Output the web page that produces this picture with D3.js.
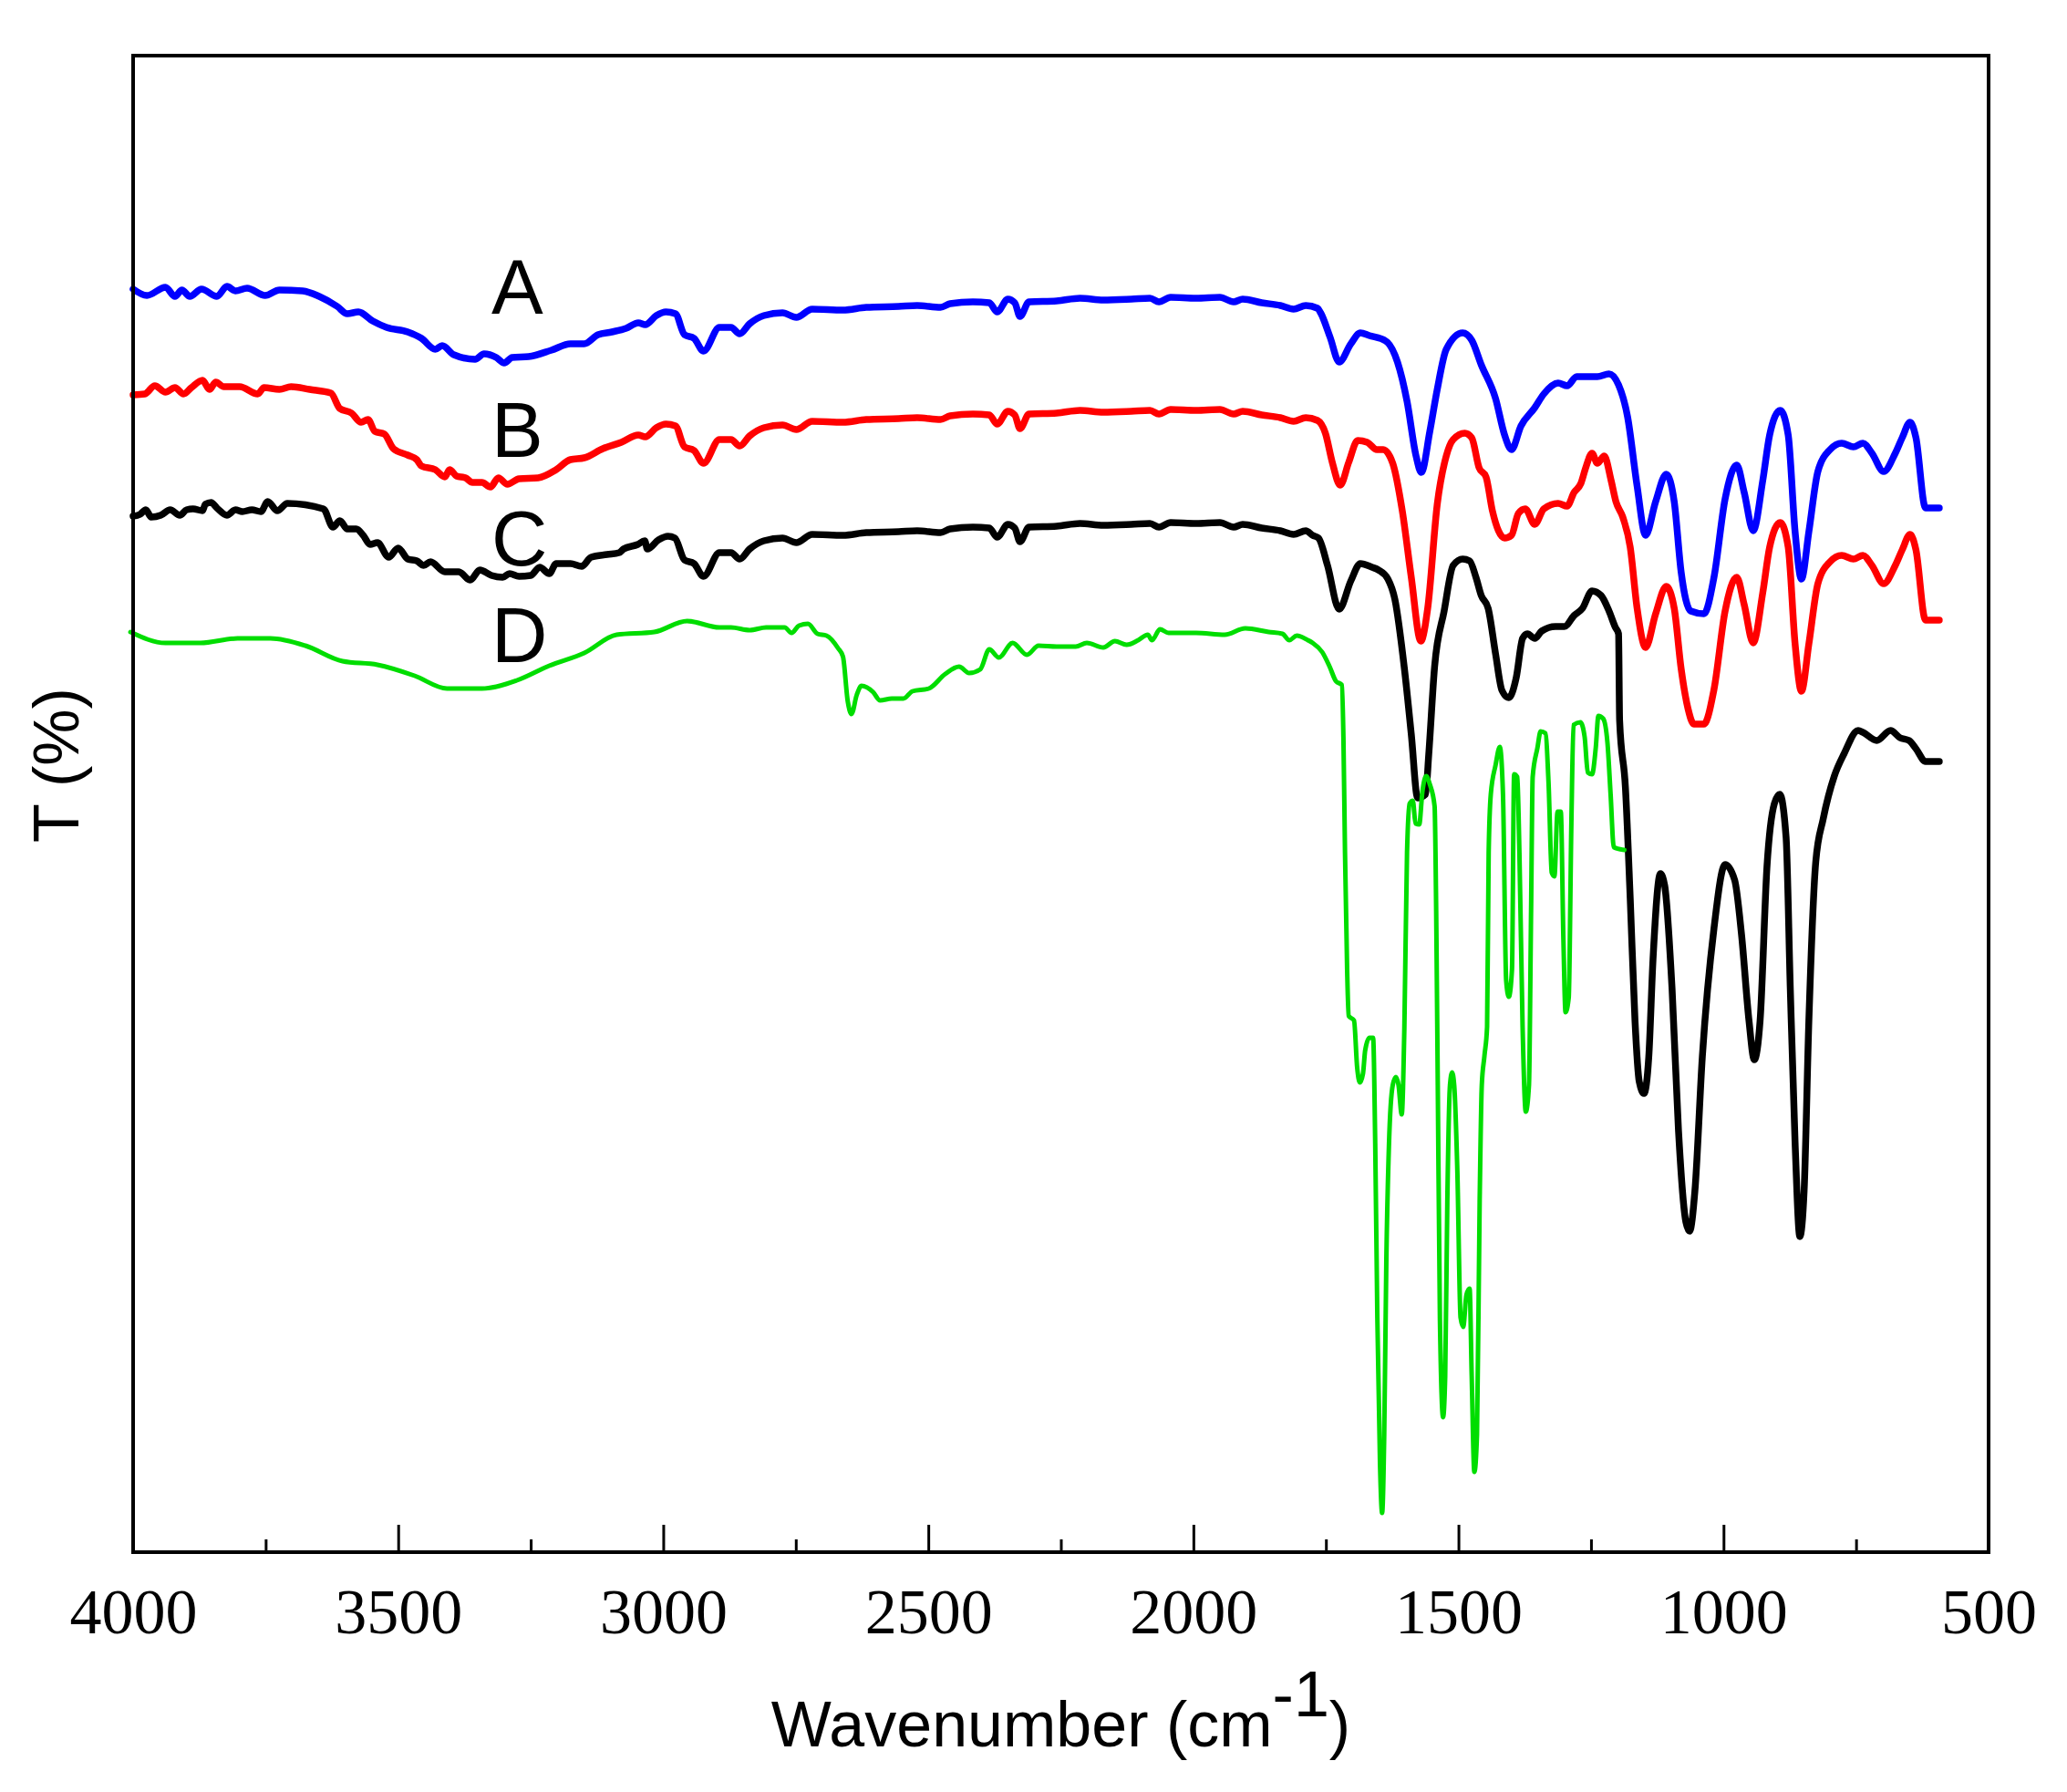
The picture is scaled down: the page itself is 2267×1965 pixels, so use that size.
<!DOCTYPE html>
<html>
<head>
<meta charset="utf-8">
<script src="https://cdn.jsdelivr.net/npm/d3@7"></script>
<style>
  html, body { margin: 0; padding: 0; background: #fff; }
  svg { display: block; }
</style>
</head>
<body>
<div id="chart"></div>
<script>
// FTIR spectra A-D, stacked, transmittance in arbitrary units (no y ticks)

const WIDTH = 2267;
const HEIGHT = 1965;
const margin = { top: 61, right: 86, bottom: 263, left: 146 };
const innerW = WIDTH - margin.left - margin.right;
const innerH = HEIGHT - margin.top - margin.bottom;

// ---- data: [wavenumber, T] ----
const seriesA = [
  [4000,138.5],[3974,137.8],[3939,138.7],[3921,137.7],[3908,138.4],[3893,137.7],[3871,138.5],[3842,137.7],[3823,138.8],[3807,138.3],
  [3785,138.6],[3751,137.8],[3724,138.4],[3680,138.3],[3649,137.7],[3615,136.6],[3596,135.8],[3575,136.0],[3548,135.0],[3522,134.3],
  [3482,133.8],[3456,133.1],[3430,131.9],[3417,132.3],[3395,131.3],[3355,130.8],[3338,131.4],[3315,131.0],[3300,130.4],[3285,131.0],
  [3254,131.1],[3211,131.8],[3175,132.5],[3149,132.5],[3123,133.5],[3097,133.8],[3070,134.2],[3047,134.8],[3034,134.6],[3013,135.6],
  [2995,136.0],[2977,135.8],[2960,133.5],[2942,133.1],[2924,131.7],[2894,134.3],[2872,134.3],[2856,133.6],[2837,134.7],[2810,135.6],
  [2775,135.9],[2749,135.4],[2719,136.3],[2661,136.2],[2617,136.5],[2556,136.6],[2521,136.7],[2477,136.5],[2459,136.9],[2416,137.1],
  [2385,137.0],[2370,136.0],[2350,137.4],[2337,137.0],[2327,135.5],[2310,137.1],[2258,137.2],[2214,137.5],[2170,137.3],[2117,137.4],
  [2082,137.5],[2065,137.1],[2043,137.6],[1995,137.5],[1950,137.6],[1924,137.1],[1907,137.4],[1871,137.0],[1836,136.7],[1811,136.3],
  [1788,136.7],[1766,136.4],[1760,135.9],[1742,133.2],[1725,130.5],[1703,132.5],[1685,133.7],[1668,133.4],[1637,132.8],[1615,130.5],
  [1597,126.2],[1580,120.2],[1570,118.4],[1554,122.9],[1540,127.5],[1523,131.9],[1492,133.7],[1475,132.9],[1457,130.2],[1430,126.5],
  [1413,122.5],[1400,120.9],[1382,123.5],[1356,125.5],[1339,127.0],[1312,128.2],[1295,127.9],[1277,128.9],[1238,128.9],[1216,129.2],
  [1198,128.0],[1181,124.5],[1163,116.9],[1147,111.5],[1128,115.2],[1108,118.2],[1093,115.2],[1080,107.5],[1062,103.2],[1037,102.9],
  [1018,106.9],[997,115.5],[975,119.2],[961,116.2],[944,112.0],[926,117.5],[913,122.5],[893,125.2],[878,122.5],[865,111.9],
  [853,106.7],[839,111.9],[822,118.5],[799,120.9],[777,121.6],[755,121.2],[737,121.6],[720,120.5],[698,118.5],[676,120.5],
  [663,122.2],[648,123.9],[637,122.2],[619,114.5],[593,114.5]
];

const seriesB = [
  [4000,126.9],[3978,127.0],[3959,127.9],[3939,127.2],[3921,127.7],[3905,127.0],[3890,127.7],[3869,128.5],[3856,127.5],[3844,128.3],
  [3829,127.8],[3799,127.8],[3765,127.0],[3753,127.7],[3724,127.5],[3702,127.8],[3667,127.5],[3627,127.1],[3610,125.4],[3588,124.9],
  [3570,123.9],[3557,124.2],[3544,122.9],[3526,122.6],[3509,121.0],[3482,120.3],[3465,119.8],[3456,119.1],[3430,118.7],[3412,117.9],
  [3403,118.7],[3390,118.0],[3373,117.8],[3360,117.3],[3342,117.3],[3326,116.8],[3311,117.8],[3294,117.1],[3272,117.7],[3236,117.8],
  [3202,118.7],[3175,119.8],[3149,120.0],[3114,121.0],[3079,121.7],[3047,122.5],[3034,122.3],[3013,123.3],[2995,123.7],[2977,123.5],
  [2960,121.2],[2942,120.8],[2924,119.4],[2894,122.0],[2872,122.0],[2856,121.3],[2837,122.4],[2810,123.3],[2775,123.6],[2749,123.1],
  [2719,124.0],[2661,123.9],[2617,124.2],[2556,124.3],[2521,124.4],[2477,124.2],[2459,124.6],[2416,124.8],[2385,124.7],[2370,123.7],
  [2350,125.1],[2337,124.7],[2327,123.2],[2310,124.8],[2258,124.9],[2214,125.2],[2170,125.0],[2117,125.1],[2082,125.2],[2065,124.8],
  [2043,125.3],[1995,125.2],[1950,125.3],[1924,124.8],[1907,125.1],[1871,124.7],[1836,124.4],[1811,124.0],[1788,124.4],[1766,124.1],
  [1751,122.7],[1738,119.5],[1723,117.0],[1707,119.5],[1690,121.9],[1672,121.7],[1654,120.9],[1642,120.9],[1624,119.4],[1606,114.2],
  [1589,106.9],[1571,99.9],[1558,103.5],[1540,114.9],[1523,120.2],[1510,122.0],[1488,122.7],[1475,122.2],[1461,118.9],[1448,117.9],
  [1436,114.2],[1413,111.2],[1400,111.5],[1387,113.9],[1374,114.4],[1356,112.7],[1339,114.4],[1312,115.0],[1295,114.7],[1282,116.2],
  [1269,117.2],[1260,118.9],[1248,120.5],[1238,119.4],[1225,120.2],[1212,117.5],[1203,115.2],[1190,113.5],[1176,110.2],[1163,103.5],
  [1147,99.2],[1128,102.9],[1108,105.9],[1093,103.5],[1080,96.9],[1067,92.5],[1056,90.8],[1037,90.8],[1018,94.6],[997,103.2],
  [975,106.9],[961,103.9],[944,99.7],[926,105.2],[913,110.2],[893,112.9],[878,110.2],[865,99.6],[853,94.4],[839,99.6],
  [822,106.2],[799,108.6],[777,109.3],[755,108.9],[737,109.3],[720,108.2],[698,106.2],[676,108.2],[663,109.9],[648,111.6],
  [637,109.9],[619,102.2],[593,102.2]
];

const seriesC = [
  [4000,113.6],[3987,113.8],[3976,114.3],[3966,113.5],[3948,113.7],[3930,114.3],[3912,113.7],[3899,114.3],[3887,114.4],[3869,114.2],
  [3864,114.9],[3853,115.1],[3842,114.5],[3823,113.7],[3807,114.3],[3794,114.1],[3776,114.3],[3759,114.1],[3746,115.2],[3728,114.2],
  [3709,115.0],[3641,114.4],[3623,112.4],[3610,113.1],[3596,112.2],[3579,112.2],[3566,111.5],[3553,110.5],[3539,110.7],[3518,109.1],
  [3500,110.1],[3482,108.9],[3465,108.7],[3452,108.2],[3439,108.6],[3412,107.5],[3386,107.5],[3364,106.6],[3346,107.7],[3324,107.1],
  [3303,106.9],[3290,107.3],[3272,107.0],[3250,107.1],[3233,108.0],[3215,107.3],[3202,108.4],[3175,108.4],[3154,108.1],[3136,109.1],
  [3106,109.4],[3083,109.6],[3075,110.0],[3048,110.5],[3035,110.9],[3030,110.0],[3009,111.0],[2991,111.4],[2978,111.2],[2960,108.8],
  [2942,108.4],[2924,107.0],[2894,109.6],[2872,109.6],[2856,108.9],[2837,110.0],[2810,110.9],[2775,111.2],[2749,110.7],[2719,111.6],
  [2661,111.5],[2617,111.8],[2556,111.9],[2521,112.0],[2477,111.8],[2459,112.2],[2416,112.4],[2385,112.3],[2370,111.3],[2350,112.7],
  [2337,112.3],[2327,110.8],[2310,112.4],[2258,112.5],[2214,112.8],[2170,112.6],[2117,112.7],[2082,112.8],[2065,112.4],[2043,112.9],
  [1995,112.8],[1950,112.9],[1924,112.4],[1907,112.7],[1871,112.3],[1836,112.0],[1811,111.6],[1788,112.0],[1775,111.5],[1764,111.2],
  [1747,108.2],[1725,103.4],[1703,106.5],[1685,108.4],[1663,108.0],[1651,107.7],[1633,106.7],[1620,104.5],[1602,96.9],[1589,89.7],
  [1577,82.7],[1562,83.1],[1556,87.5],[1545,97.1],[1527,103.2],[1510,108.2],[1492,108.9],[1479,108.7],[1467,106.9],[1457,104.9],
  [1444,103.5],[1430,98.5],[1418,94.5],[1405,93.7],[1391,95.9],[1379,100.2],[1370,100.7],[1356,100.2],[1343,101.0],[1317,101.5],
  [1300,101.5],[1282,102.7],[1266,103.5],[1248,105.4],[1231,104.9],[1216,103.2],[1204,101.4],[1198,100.7],[1196,91.2],[1185,83.8],
  [1176,71.7],[1167,58.3],[1159,51.6],[1150,50.3],[1141,54.3],[1133,65.0],[1119,74.4],[1111,73.1],[1097,61.7],[1085,46.3],
  [1071,36.2],[1064,35.2],[1054,39.6],[1040,54.3],[1018,68.4],[997,75.4],[979,73.7],[966,67.7],[952,58.3],[942,54.0],
  [931,58.3],[918,75.2],[904,82.1],[894,83.1],[882,78.4],[874,61.7],[865,44.9],[856,34.6],[848,39.6],[839,58.3],
  [826,75.7],[812,80.4],[791,85.1],[773,87.5],[746,90.1],[737,89.9],[711,89.0],[685,90.1],[667,89.3],[650,89.0],
  [637,88.1],[619,86.7],[593,86.7]
];

const seriesD = [
  [4005,100.9],[3939,99.7],[3873,99.7],[3803,100.2],[3741,100.2],[3675,99.4],[3605,97.7],[3539,97.3],[3469,96.1],[3408,94.7],
  [3342,94.7],[3276,95.6],[3215,97.2],[3149,98.6],[3088,100.6],[3017,100.9],[2955,102.1],[2894,101.4],[2872,101.4],[2837,101.1],
  [2806,101.4],[2771,101.4],[2758,100.8],[2744,101.6],[2727,101.8],[2709,100.7],[2692,100.5],[2670,99.1],[2661,98.2],[2652,93.3],
  [2645,91.9],[2635,94.0],[2626,95.0],[2604,94.3],[2591,93.4],[2569,93.6],[2547,93.6],[2530,94.4],[2499,94.7],[2468,96.3],
  [2442,97.1],[2423,96.4],[2402,96.8],[2385,99.0],[2367,98.1],[2341,99.7],[2314,98.4],[2292,99.4],[2258,99.3],[2222,99.3],
  [2201,99.7],[2170,99.2],[2148,99.9],[2126,99.5],[2104,100.0],[2086,100.6],[2078,100.0],[2063,101.2],[2047,100.8],[1995,100.8],
  [1941,100.6],[1902,101.3],[1858,100.9],[1832,100.7],[1819,100.0],[1805,100.5],[1784,100.0],[1775,99.7],[1757,98.7],[1743,97.1],
  [1731,95.5],[1720,95.1],[1717,89.4],[1714,76.7],[1710,63.9],[1707,58.8],[1697,58.3],[1691,53.1],[1686,51.5],[1680,52.5],
  [1676,55.0],[1668,56.4],[1661,56.4],[1657,44.8],[1653,25.7],[1648,9.7],[1644,4.3],[1640,12.9],[1636,32.1],[1631,44.8],
  [1624,51.2],[1618,52.1],[1613,51.2],[1607,48.0],[1602,57.6],[1597,76.7],[1592,82.1],[1586,82.4],[1581,79.9],[1574,79.8],
  [1568,83.4],[1561,85.1],[1554,84.2],[1545,81.8],[1542,70.3],[1539,51.2],[1535,25.7],[1529,14.8],[1525,19.3],[1521,38.4],
  [1516,51.2],[1512,52.6],[1508,51.2],[1502,41.6],[1496,25.7],[1491,24.7],[1485,28.2],[1479,28.9],[1475,19.3],[1470,8.8],
  [1465,12.9],[1460,38.4],[1456,51.2],[1451,54.4],[1446,57.6],[1443,76.7],[1439,83.1],[1430,86.3],[1422,88.3],[1416,83.1],
  [1410,62.7],[1405,60.9],[1399,63.9],[1395,85.3],[1389,85.0],[1385,76.7],[1379,57.6],[1373,48.3],[1367,51.2],[1363,70.3],
  [1360,85.0],[1351,88.2],[1345,90.0],[1336,89.8],[1330,84.3],[1324,74.5],[1319,74.1],[1313,81.2],[1307,81.2],[1302,67.1],
  [1298,59.2],[1292,60.8],[1287,79.9],[1283,90.7],[1270,91.0],[1262,89.4],[1256,85.5],[1248,85.3],[1241,88.2],[1236,91.7],
  [1227,91.4],[1219,88.8],[1213,83.1],[1207,77.3],[1187,77.0]
];

const seriesNames = ["A", "B", "C", "D"];
const seriesColors = ["#0000ff", "#ff0000", "#000000", "#00dd00"];
const seriesWidths = [7.5, 7.5, 7.5, 5];

// curve labels: wavenumber and T of the label baseline
const labelWn = 3324;
const labelT = [135.8, 120.1, 108.2, 97.6];

const majorTicks = [4000, 3500, 3000, 2500, 2000, 1500, 1000, 500];
const minorTicks = [3750, 3250, 2750, 2250, 1750, 1250, 750];

const xDomain = [4000, 500];
const yDomain = [0, 164.1];

// ---- svg ----
const svg = d3.select("#chart")
  .append("svg")
  .attr("width", WIDTH)
  .attr("height", HEIGHT);

svg.append("rect")
  .attr("width", WIDTH)
  .attr("height", HEIGHT)
  .attr("fill", "#fff");

const g = svg.append("g")
  .attr("transform", `translate(${margin.left},${margin.top})`);

const x = d3.scaleLinear().domain(xDomain).range([0, innerW]);
const y = d3.scaleLinear().domain(yDomain).range([innerH, 0]);

const line = d3.line()
  .x((d) => x(d[0]))
  .y((d) => y(d[1]))
  .curve(d3.curveMonotoneX);

// spectra
const allSeries = [seriesA, seriesB, seriesC, seriesD];
g.append("g")
  .selectAll("path")
  .data(allSeries)
  .join("path")
  .attr("d", (d) => line(d))
  .attr("fill", "none")
  .attr("stroke", (d, i) => seriesColors[i])
  .attr("stroke-width", (d, i) => seriesWidths[i])
  .attr("stroke-linejoin", "round")
  .attr("stroke-linecap", "round");

// curve letters
g.append("g")
  .selectAll("text")
  .data(seriesNames)
  .join("text")
  .attr("x", x(labelWn))
  .attr("y", (d, i) => y(labelT[i]))
  .attr("font-family", "'Liberation Sans', Arial, sans-serif")
  .attr("font-size", 85)
  .attr("fill", "#000")
  .text((d) => d);

// ---- axes ----
const xMinor = d3.axisBottom(x)
  .tickValues(minorTicks)
  .tickSizeInner(-14)
  .tickSizeOuter(0)
  .tickFormat("");

g.append("g")
  .attr("transform", `translate(0,${innerH})`)
  .call(xMinor)
  .call((s) => s.select(".domain").remove())
  .call((s) => s.selectAll("line").attr("stroke", "#000").attr("stroke-width", 3));

const xMajor = d3.axisBottom(x)
  .tickValues(majorTicks)
  .tickSizeInner(-30)
  .tickSizeOuter(0)
  .tickFormat(d3.format("d"));

g.append("g")
  .attr("transform", `translate(0,${innerH})`)
  .call(xMajor)
  .attr("font-family", "'Liberation Serif', 'Times New Roman', serif")
  .attr("font-size", 70)
  .call((s) => s.select(".domain").remove())
  .call((s) => s.selectAll("line").attr("stroke", "#000").attr("stroke-width", 3))
  .call((s) => s.selectAll("text").attr("y", 89).attr("dy", null).attr("fill", "#000"));

// frame
g.append("rect")
  .attr("x", 0)
  .attr("y", 0)
  .attr("width", innerW)
  .attr("height", innerH)
  .attr("fill", "none")
  .attr("stroke", "#000")
  .attr("stroke-width", 4);

// axis titles
const xTitle = g.append("text")
  .attr("x", innerW / 2)
  .attr("y", innerH + 213)
  .attr("text-anchor", "middle")
  .attr("font-family", "'Liberation Sans', Arial, sans-serif")
  .attr("font-size", 70)
  .attr("fill", "#000");
xTitle.append("tspan").text("Wavenumber (cm");
xTitle.append("tspan").attr("dy", -33).text("-1");
xTitle.append("tspan").attr("dy", 33).text(")");

g.append("text")
  .attr("transform", `translate(${86 - margin.left},${839 - margin.top}) rotate(-90)`)
  .attr("text-anchor", "middle")
  .attr("font-family", "'Liberation Sans', Arial, sans-serif")
  .attr("font-size", 70)
  .attr("fill", "#000")
  .text("T (%)");
</script>
</body>
</html>
